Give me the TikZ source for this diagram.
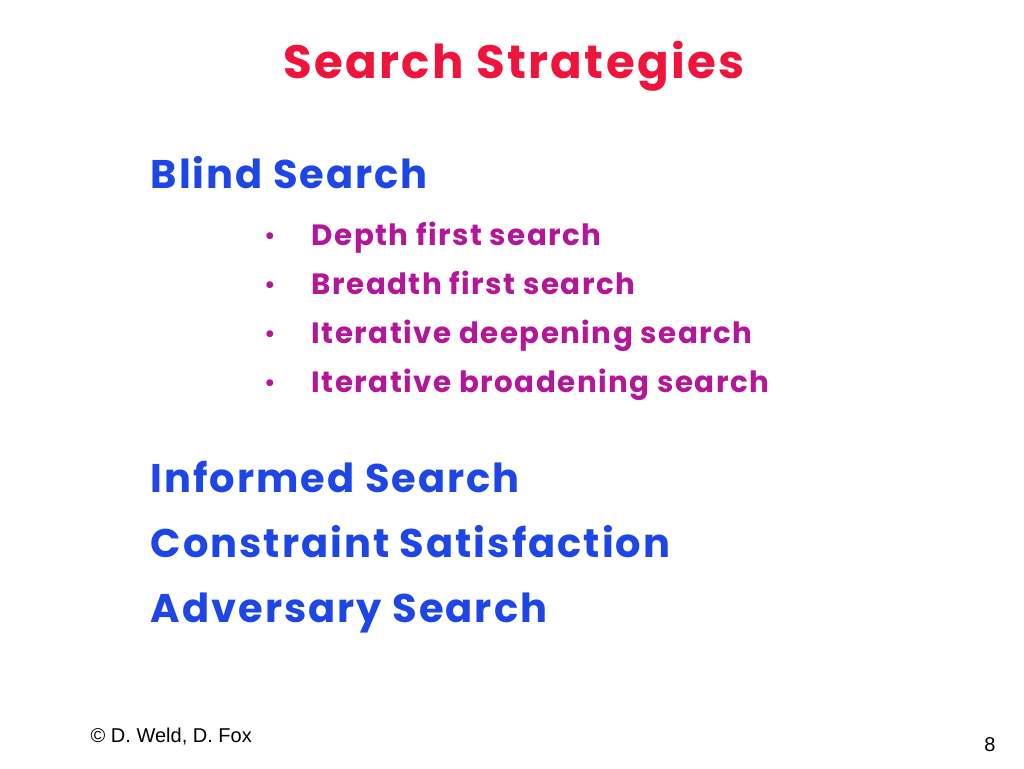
\documentclass[tikz,border=0pt]{standalone}
\usepackage{fontspec}
\setmainfont{Poppins}[LetterSpace=5]
\newfontfamily\foot{Liberation Sans}
\definecolor{tred}{HTML}{F0143C}
\definecolor{tblue}{HTML}{1E46E6}
\definecolor{tmag}{HTML}{B4169A}
\begin{document}
\begin{tikzpicture}[x=0.75pt,y=-0.75pt,
  title/.style={anchor=base,text=tred,font=\fontsize{35}{38}\selectfont\bfseries},
  head/.style={anchor=base west,text=tblue,font=\fontsize{30}{32}\selectfont\bfseries},
  item/.style={anchor=base west,text=tmag,font=\fontsize{22}{24}\selectfont\bfseries},
  dot/.style={anchor=base,text=tmag,font=\fontsize{21}{24}\selectfont},
  ft/.style={anchor=base west,font=\fontsize{15}{16}\selectfont\foot}]
\useasboundingbox[fill=white] (0,0) rectangle (1024,768);
\node[title] (t) at (514,78) {Search Strategies};
\node[head] (b) at (146,188) {Blind Search};
\node[item] (i1) at (307,245) {Depth first search};
\node[item] (i2) at (307,294) {Breadth first search};
\node[item] (i3) at (307,343) {Iterative deepening search};
\node[item] (i4) at (307,392) {Iterative broadening search};
\foreach \y/\n in {245/d1,294/d2,343/d3,392/d4} \node[dot] (\n) at (270,\y) {•};
\node[head] (h2) at (146,492) {Informed Search};
\node[head] (h3) at (146,557) {Constraint Satisfaction};
\node[head] (h4) at (146,622) {Adversary Search};
\node[ft] (f) at (86,742) {© D. Weld, D. Fox};
\node[ft,anchor=base] (p) at (990,751) {8};
\end{tikzpicture}
\end{document}
